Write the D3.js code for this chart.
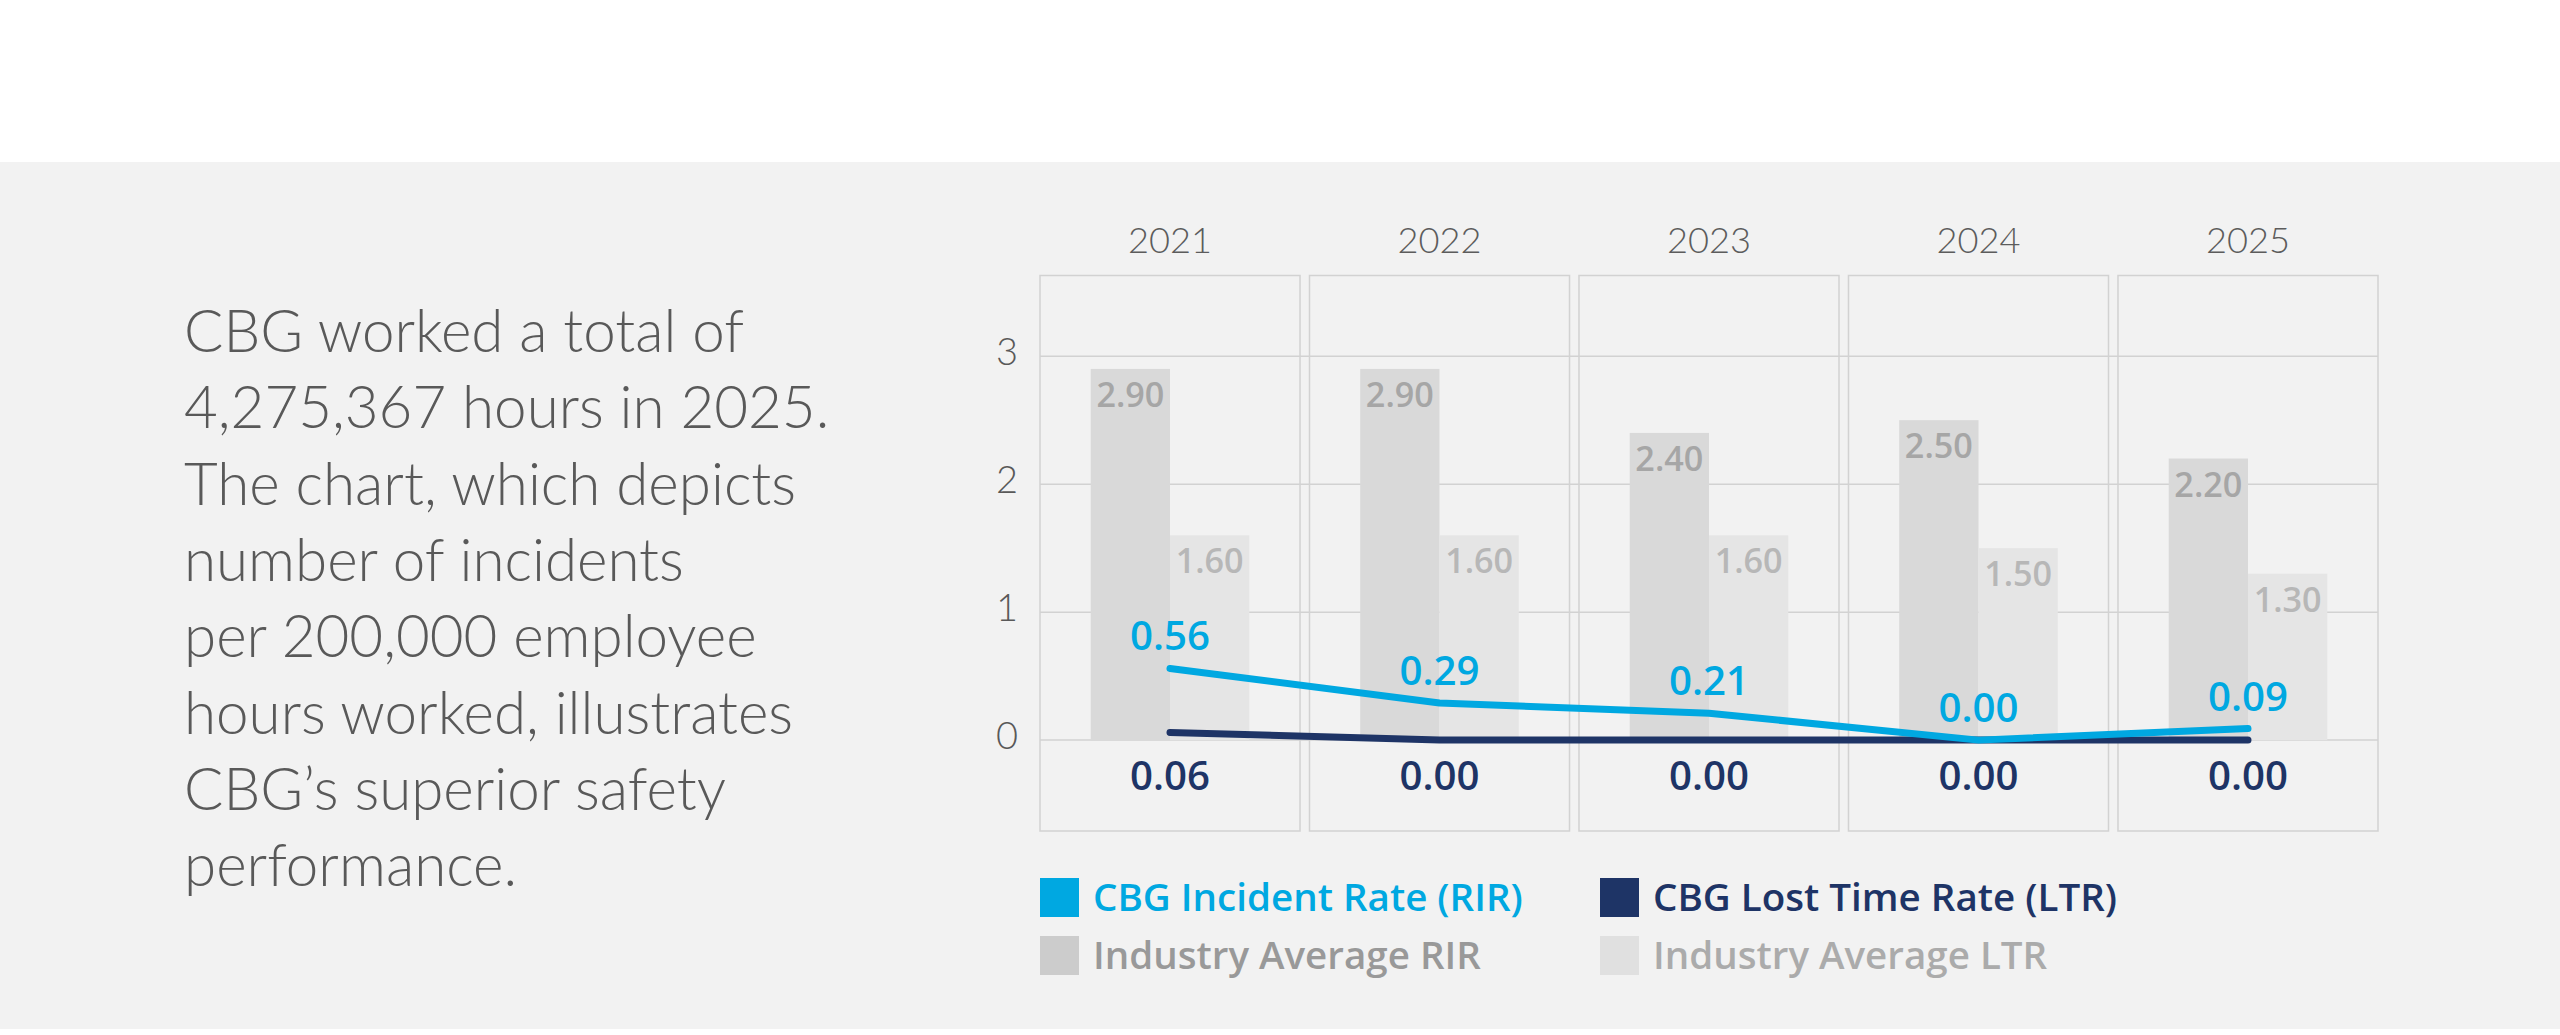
<!DOCTYPE html>
<html>
<head>
<meta charset="utf-8">
<script src="https://cdn.jsdelivr.net/npm/d3@7"></script>
<style>
  html, body { margin: 0; padding: 0; background: #fff; }
  svg { display: block; }
</style>
</head>
<body>
<svg id="chart" width="2560" height="1035"></svg>
<script>
// data
var years = ['2021', '2022', '2023', '2024', '2025'];
var industryRIR = [2.90, 2.90, 2.40, 2.50, 2.20];
var industryLTR = [1.60, 1.60, 1.60, 1.50, 1.30];
var cbgRIR = [0.56, 0.29, 0.21, 0.00, 0.09];
var cbgLTR = [0.06, 0.00, 0.00, 0.00, 0.00];
var yTicks = [0, 1, 2, 3];
var blurb = [
  'CBG worked a total of',
  '4,275,367 hours in 2025.',
  'The chart, which depicts',
  'number of incidents',
  'per 200,000 employee',
  'hours worked, illustrates',
  'CBG\u2019s superior safety',
  'performance.'
];
var legendItems = [
  {label: 'CBG Incident Rate (RIR)', swatch: '#00a8e1', text: '#00a8e1'},
  {label: 'CBG Lost Time Rate (LTR)', swatch: '#1e3466', text: '#1e3466'},
  {label: 'Industry Average RIR', swatch: '#cccccc', text: '#999999'},
  {label: 'Industry Average LTR', swatch: '#e0e0e0', text: '#ababab'}
];

var LIGHT = "'Lato', 'Source Sans Pro', sans-serif";
var SEMI = "'Open Sans', 'Source Sans Pro', sans-serif";

var svg = d3.select('#chart');

// font size that makes a string a given width
function fitSize(str, family, weight, width) {
  var t = svg.append('text')
    .attr('font-family', family)
    .attr('font-weight', weight)
    .attr('font-size', 100)
    .text(str);
  var w = t.node().getComputedTextLength();
  t.remove();
  return 100 * width / w;
}

// background band
svg.append('rect')
  .attr('x', 0).attr('y', 162)
  .attr('width', 2560).attr('height', 867)
  .attr('fill', '#f2f2f2');

// left paragraph (sized so the lines together are about as long as the original)
var pSize = fitSize(blurb.join(''), LIGHT, 300, 4370);
svg.append('g')
  .selectAll('text')
  .data(blurb)
  .join('text')
    .attr('x', 184)
    .attr('y', function(d, i) { return 352 + i * 76.3; })
    .attr('font-family', LIGHT)
    .attr('font-weight', 300)
    .attr('font-size', pSize)
    .attr('fill', '#595959')
    .text(function(d) { return d; });

// scales
var x = d3.scaleBand()
  .domain(years)
  .range([1040, 2378])
  .paddingInner(0.0352);

var xs = d3.scaleBand()
  .domain(['rir', 'ltr'])
  .range([0, x.bandwidth()])
  .paddingOuter(0.64);

var y = d3.scaleLinear()
  .domain([-0.71, 3.63])
  .range([831, 275.5]);

var chart = svg.append('g');

// panel frames
chart.append('g')
  .selectAll('rect')
  .data(years)
  .join('rect')
    .attr('x', function(d) { return x(d); })
    .attr('y', y(3.63))
    .attr('width', x.bandwidth())
    .attr('height', y(-0.71) - y(3.63))
    .attr('fill', 'none')
    .attr('stroke', '#d2d2d2')
    .attr('stroke-width', 1.5);

// gridlines
chart.append('g')
  .selectAll('line')
  .data(yTicks)
  .join('line')
    .attr('x1', 1040)
    .attr('x2', 2378)
    .attr('y1', function(d) { return y(d); })
    .attr('y2', function(d) { return y(d); })
    .attr('stroke', '#d2d2d2')
    .attr('stroke-width', 1.5);

// y tick labels
var tSize = fitSize('2021', LIGHT, 300, 84);
chart.append('g')
  .selectAll('text')
  .data(yTicks)
  .join('text')
    .attr('x', 1007)
    .attr('y', function(d) { return y(d) + 9; })
    .attr('text-anchor', 'middle')
    .attr('font-family', LIGHT)
    .attr('font-weight', 300)
    .attr('font-size', tSize * 1.05)
    .attr('fill', '#595959')
    .text(function(d) { return d; });

// year labels
chart.append('g')
  .selectAll('text')
  .data(years)
  .join('text')
    .attr('x', function(d) { return x(d) + x.bandwidth() / 2; })
    .attr('y', 253)
    .attr('text-anchor', 'middle')
    .attr('font-family', LIGHT)
    .attr('font-weight', 300)
    .attr('font-size', tSize)
    .attr('fill', '#5c5c5c')
    .text(function(d) { return d; });

// bars
var barData = [];
years.forEach(function(yr, i) {
  barData.push({year: yr, key: 'rir', v: industryRIR[i], fill: '#d9d9d9', label: '#a6a6a6'});
  barData.push({year: yr, key: 'ltr', v: industryLTR[i], fill: '#e5e5e5', label: '#b7b7b7'});
});

var bSize = fitSize('2.90', SEMI, 600, 68);
var bars = chart.append('g')
  .selectAll('g')
  .data(barData)
  .join('g');

bars.append('rect')
  .attr('x', function(d) { return x(d.year) + xs(d.key); })
  .attr('y', function(d) { return y(d.v); })
  .attr('width', xs.bandwidth())
  .attr('height', function(d) { return y(0) - y(d.v); })
  .attr('fill', function(d) { return d.fill; });

bars.append('text')
  .attr('x', function(d) { return x(d.year) + xs(d.key) + xs.bandwidth() / 2; })
  .attr('y', function(d) { return y(d.v) + 38; })
  .attr('text-anchor', 'middle')
  .attr('font-family', SEMI)
  .attr('font-weight', 600)
  .attr('font-size', bSize)
  .attr('fill', function(d) { return d.label; })
  .text(function(d) { return d.v.toFixed(2); });

// lines
var cx = function(d, i) { return x(years[i]) + x.bandwidth() / 2; };
var line = d3.line()
  .x(cx)
  .y(function(d) { return y(d); });

chart.append('path')
  .datum(cbgLTR)
  .attr('d', line)
  .attr('fill', 'none')
  .attr('stroke', '#1e3466')
  .attr('stroke-width', 7)
  .attr('stroke-linecap', 'round')
  .attr('stroke-linejoin', 'round');

chart.append('path')
  .datum(cbgRIR)
  .attr('d', line)
  .attr('fill', 'none')
  .attr('stroke', '#00a8e1')
  .attr('stroke-width', 7)
  .attr('stroke-linecap', 'round')
  .attr('stroke-linejoin', 'round');

// line value labels
var vSize = fitSize('0.56', SEMI, 600, 80);
chart.append('g')
  .selectAll('text')
  .data(cbgRIR)
  .join('text')
    .attr('x', cx)
    .attr('y', function(d) { return y(d) - 18; })
    .attr('text-anchor', 'middle')
    .attr('font-family', SEMI)
    .attr('font-weight', 600)
    .attr('font-size', vSize)
    .attr('fill', '#00a8e1')
    .text(function(d) { return d.toFixed(2); });

chart.append('g')
  .selectAll('text')
  .data(cbgLTR)
  .join('text')
    .attr('x', cx)
    .attr('y', y(0) + 50)
    .attr('text-anchor', 'middle')
    .attr('font-family', SEMI)
    .attr('font-weight', 600)
    .attr('font-size', vSize)
    .attr('fill', '#1e3466')
    .text(function(d) { return d.toFixed(2); });

// legend
var lSize = fitSize('CBG Incident Rate (RIR)', SEMI, 600, 430);
var legend = svg.append('g')
  .selectAll('g')
  .data(legendItems)
  .join('g')
    .attr('transform', function(d, i) {
      return 'translate(' + (i % 2 ? 1600 : 1040) + ',' + (i < 2 ? 878 : 936) + ')';
    });

legend.append('rect')
  .attr('width', 39)
  .attr('height', 39)
  .attr('fill', function(d) { return d.swatch; });

legend.append('text')
  .attr('x', 53)
  .attr('y', 33)
  .attr('font-family', SEMI)
  .attr('font-weight', 600)
  .attr('font-size', lSize)
  .attr('fill', function(d) { return d.text; })
  .text(function(d) { return d.label; });
</script>
</body>
</html>
